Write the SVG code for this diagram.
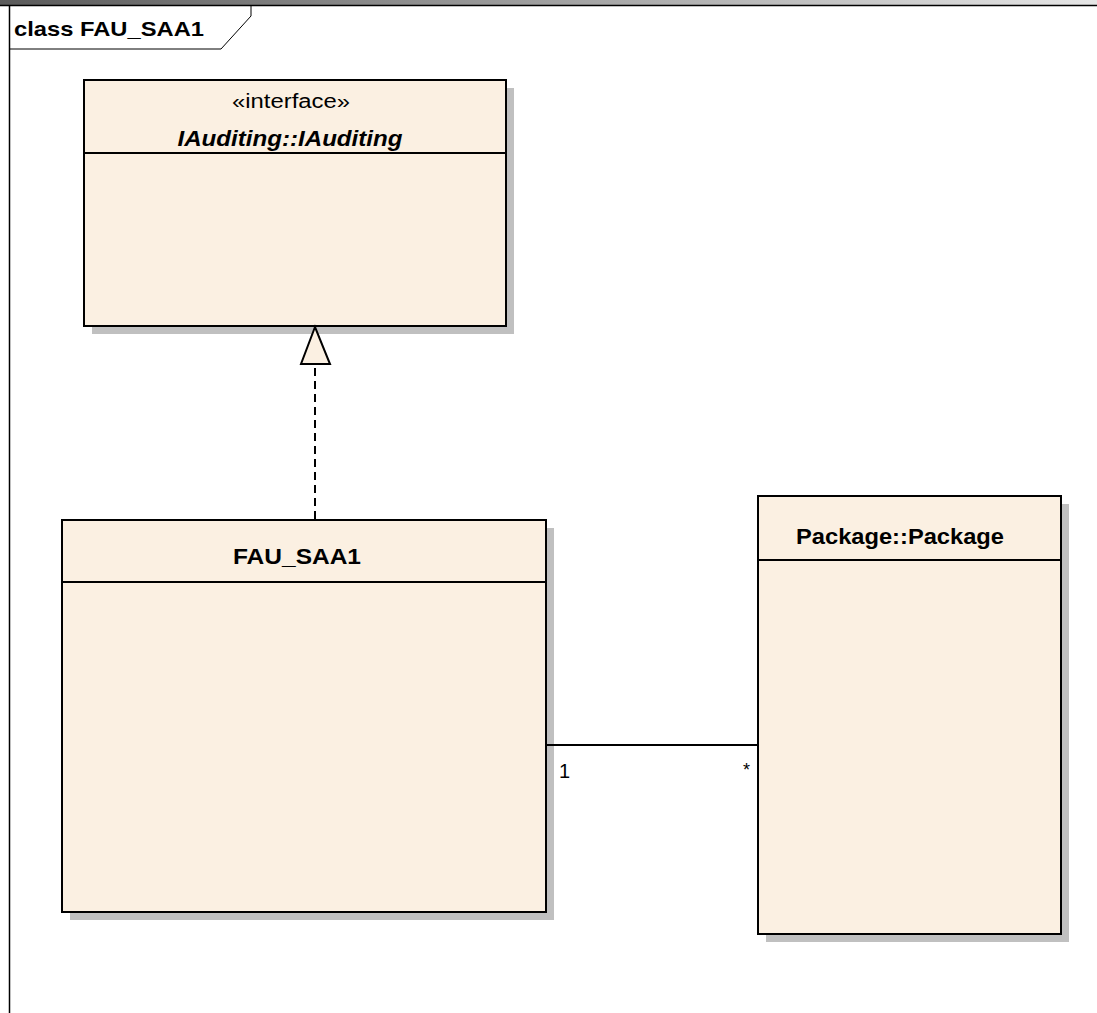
<svg xmlns="http://www.w3.org/2000/svg" width="1097" height="1013" viewBox="0 0 1097 1013">
<defs>
<linearGradient id="topbar" x1="0" y1="0" x2="1" y2="0">
<stop offset="0" stop-color="#5a5a5a"/>
<stop offset="1" stop-color="#e6e6e6"/>
</linearGradient>
</defs>
<style>
.shadow{fill:#c0c0c0;stroke:none}
.box{fill:#fbf0e2;stroke:#000;stroke-width:2}
.div{stroke:#000;stroke-width:2}
.t{font-family:"Liberation Sans",Arial,sans-serif;fill:#000}
.b{font-weight:bold}
.conn{stroke:#000;stroke-width:2;fill:none}
</style>
<rect x="0" y="0" width="1097" height="1013" fill="#fff"/>
<rect x="0" y="0" width="1097" height="5" fill="url(#topbar)"/>
<g id="frame">
<line x1="0" y1="5.5" x2="1097" y2="5.5" stroke="#000" stroke-width="1.5"/>
<line x1="9.5" y1="5" x2="9.5" y2="1013" stroke="#000" stroke-width="1.5"/>
<polyline points="9.5,49 221,49 251,16 251,5" fill="none" stroke="#000" stroke-width="1"/>
<text class="t b" x="14" y="36" font-size="21" textLength="190" lengthAdjust="spacingAndGlyphs">class FAU_SAA1</text>
</g>
<g id="IAuditing">
<rect class="shadow" x="92" y="88" width="422" height="246"/>
<rect class="box" x="84" y="80" width="422" height="246"/>
<line class="div" x1="84" y1="153" x2="506" y2="153"/>
<text class="t" x="291" y="108" font-size="20" text-anchor="middle" textLength="118" lengthAdjust="spacingAndGlyphs">«interface»</text>
<text class="t b" x="290" y="146" font-size="22" font-style="italic" text-anchor="middle" textLength="225" lengthAdjust="spacingAndGlyphs">IAuditing::IAuditing</text>
</g>
<g id="FAU_SAA1">
<rect class="shadow" x="70" y="528" width="484" height="392"/>
<rect class="box" x="62" y="520" width="484" height="392"/>
<line class="div" x1="62" y1="582" x2="546" y2="582"/>
<text class="t b" x="297" y="564" font-size="22" text-anchor="middle" textLength="128" lengthAdjust="spacingAndGlyphs">FAU_SAA1</text>
</g>
<g id="Package">
<rect class="shadow" x="766" y="504" width="303" height="438"/>
<rect class="box" x="758" y="496" width="303" height="438"/>
<line class="div" x1="758" y1="560" x2="1061" y2="560"/>
<text class="t b" x="796" y="544" font-size="22" textLength="208" lengthAdjust="spacingAndGlyphs">Package::Package</text>
</g>
<g id="connectors">
<line class="conn" x1="315" y1="519" x2="315" y2="365" stroke-dasharray="8,5"/>
<polygon points="315,327 301,364 330,364" fill="#fbf0e2" stroke="#000" stroke-width="2" stroke-linejoin="miter"/>
<line class="conn" x1="547" y1="745" x2="757" y2="745"/>
<text class="t" x="559" y="778" font-size="20">1</text>
<text class="t" x="743" y="776" font-size="18">*</text>
</g>
</svg>
